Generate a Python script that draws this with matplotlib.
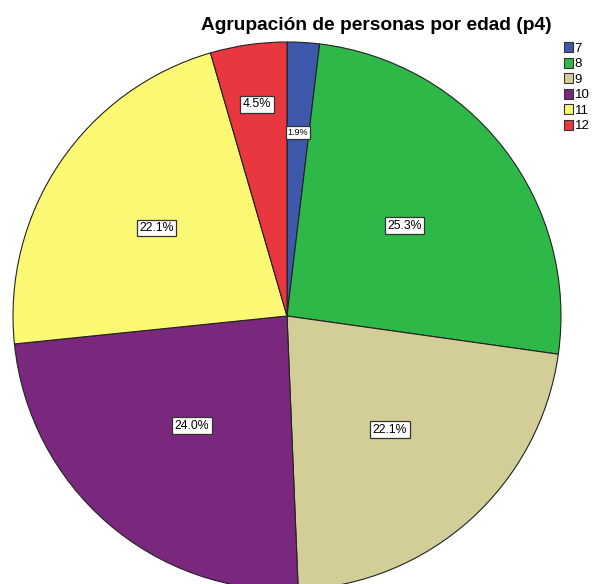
import matplotlib
matplotlib.use("Agg")
import matplotlib.pyplot as plt
import numpy as np

categories = ["7", "8", "9", "10", "11", "12"]
percentages = [1.9, 25.3, 22.1, 24.0, 22.1, 4.5]
label_texts = ["1.9%", "25.3%", "22.1%", "24.0%", "22.1%", "4.5%"]
colors = ["#3E58AC", "#2EB848", "#D3CE97", "#79287D", "#FBF873", "#E8373F"]
title = "Agrupación de personas por edad (p4)"

plt.rcParams['font.family'] = ['Liberation Sans', 'DejaVu Sans']

W, H = 595, 584
fig = plt.figure(figsize=(W / 100, H / 100), dpi=100)
ax = fig.add_axes([0, 0, 1, 1])
cx, cy, R = 287, 316, 274
ax.set_aspect('equal')
ax.axis('off')

wedges, _ = ax.pie(percentages, colors=colors, startangle=90, counterclock=False,
                   radius=1.0, wedgeprops=dict(edgecolor='#222222', linewidth=0.8))
ax.set_xlim(-cx / R, (W - cx) / R)
ax.set_ylim(-(H - cy) / R, cy / R)

label_r = [0.67, 0.54, 0.56, 0.53, 0.575, 0.78]
label_fs = [6.5, 8.8, 8.8, 8.8, 8.8, 9]
for w, txt, r, fs in zip(wedges, label_texts, label_r, label_fs):
    ang = np.deg2rad((w.theta1 + w.theta2) / 2)
    ax.text(r * np.cos(ang), r * np.sin(ang), txt, ha='center', va='center', fontsize=fs,
            bbox=dict(boxstyle='square,pad=0.2', fc='white', ec='#333333', lw=0.9))

fig.text(376 / W, 1 - 25 / H, title, ha='center', va='center', fontsize=13.8, fontweight='bold')

handles = [plt.Rectangle((0, 0), 1, 1, fc=c, ec='#333333', lw=0.8) for c in colors]
fig.legend(handles, categories, loc='upper left', bbox_to_anchor=(564 / W, 1 - 42 / H),
           frameon=False, fontsize=9.5, handlelength=0.65, handleheight=0.8,
           handletextpad=0.15, labelspacing=0.22, borderpad=0, borderaxespad=0)

fig.savefig("out.png", dpi=100)
